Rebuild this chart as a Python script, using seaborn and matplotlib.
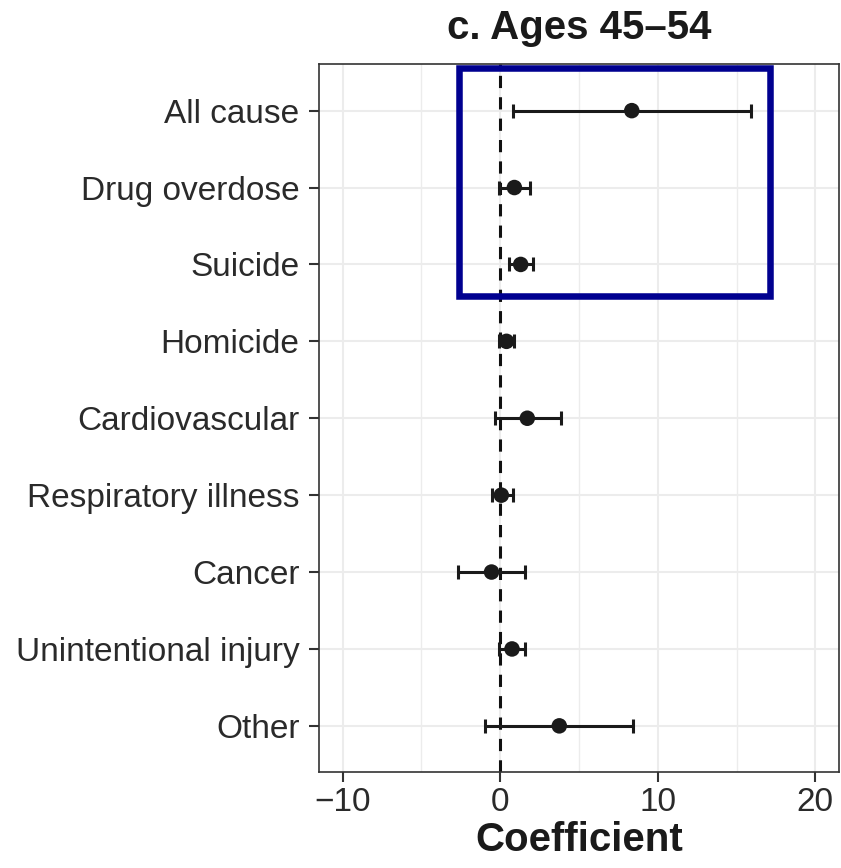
# forest plot - ages 45-54

import pandas as pd
import matplotlib.pyplot as plt
import seaborn as sns
from matplotlib.patches import Rectangle

# dados
causas = ['All cause', 'Drug overdose', 'Suicide', 'Homicide', 'Cardiovascular',
          'Respiratory illness', 'Cancer', 'Unintentional injury', 'Other']
coef = [8.35, 0.9, 1.3, 0.4, 1.72, 0.07, -0.55, 0.75, 3.75]
ic_inf = [0.8, -0.05, 0.55, -0.05, -0.33, -0.5, -2.7, -0.1, -0.95]
ic_sup = [15.9, 1.9, 2.05, 0.85, 3.83, 0.8, 1.55, 1.55, 8.4]

df = pd.DataFrame({'causa': causas, 'coef': coef, 'inf': ic_inf, 'sup': ic_sup})

sns.set_style('white')
plt.rcParams['font.family'] = ['Liberation Sans', 'DejaVu Sans']

fig = plt.figure(figsize=(8.41, 8.68), dpi=100)
ax = fig.add_axes([0.3793, 0.1106, 0.6183, 0.8151])

# grade estilo theme_bw
for v in range(-10, 21, 5):
    ax.axvline(v, color='#ececec', lw=1.5 if v % 10 == 0 else 1.0, zorder=0)
for i in range(len(causas)):
    ax.axhline(i, color='#ececec', lw=1.5, zorder=0)

ax.axvline(0, color='#111111', lw=2.2, ls=(0, (4, 3)), zorder=1)

ax.errorbar(df['coef'], df['causa'],
            xerr=[df['coef'] - df['inf'], df['sup'] - df['coef']],
            fmt='none', ecolor='#1a1a1a', elinewidth=2.2, capsize=5, capthick=2.2, zorder=2)
sns.scatterplot(data=df, x='coef', y='causa', color='#1a1a1a', s=125,
                edgecolor='none', zorder=3, ax=ax)

# destaque
ax.add_patch(Rectangle((-2.6, -0.55), 19.7, 2.96, fill=False, ec='#000090',
                       lw=4.7, clip_on=False, zorder=4))

ax.set_xlim(-11.5, 21.5)
ax.set_ylim(8.6, -0.6)
ax.set_xticks([-10, 0, 10, 20])
ax.set_xticklabels(['\u221210', '0', '10', '20'])
ax.set_title('c. Ages 45\u201354', fontsize=29, fontweight='bold', pad=18, color='#1a1a1a')
ax.set_xlabel('Coefficient', fontsize=29, fontweight='bold', color='#1a1a1a', labelpad=2)
ax.set_ylabel('')
ax.tick_params(axis='both', labelsize=24, labelcolor='#2a2a2a', length=7,
               width=1.5, color='#333333', left=True, bottom=True)
ax.tick_params(axis='y', pad=7)
ax.tick_params(axis='x', pad=4)
for s in ax.spines.values():
    s.set_color('#333333')
    s.set_linewidth(1.2)

plt.savefig('out.png', dpi=100)
plt.close()
